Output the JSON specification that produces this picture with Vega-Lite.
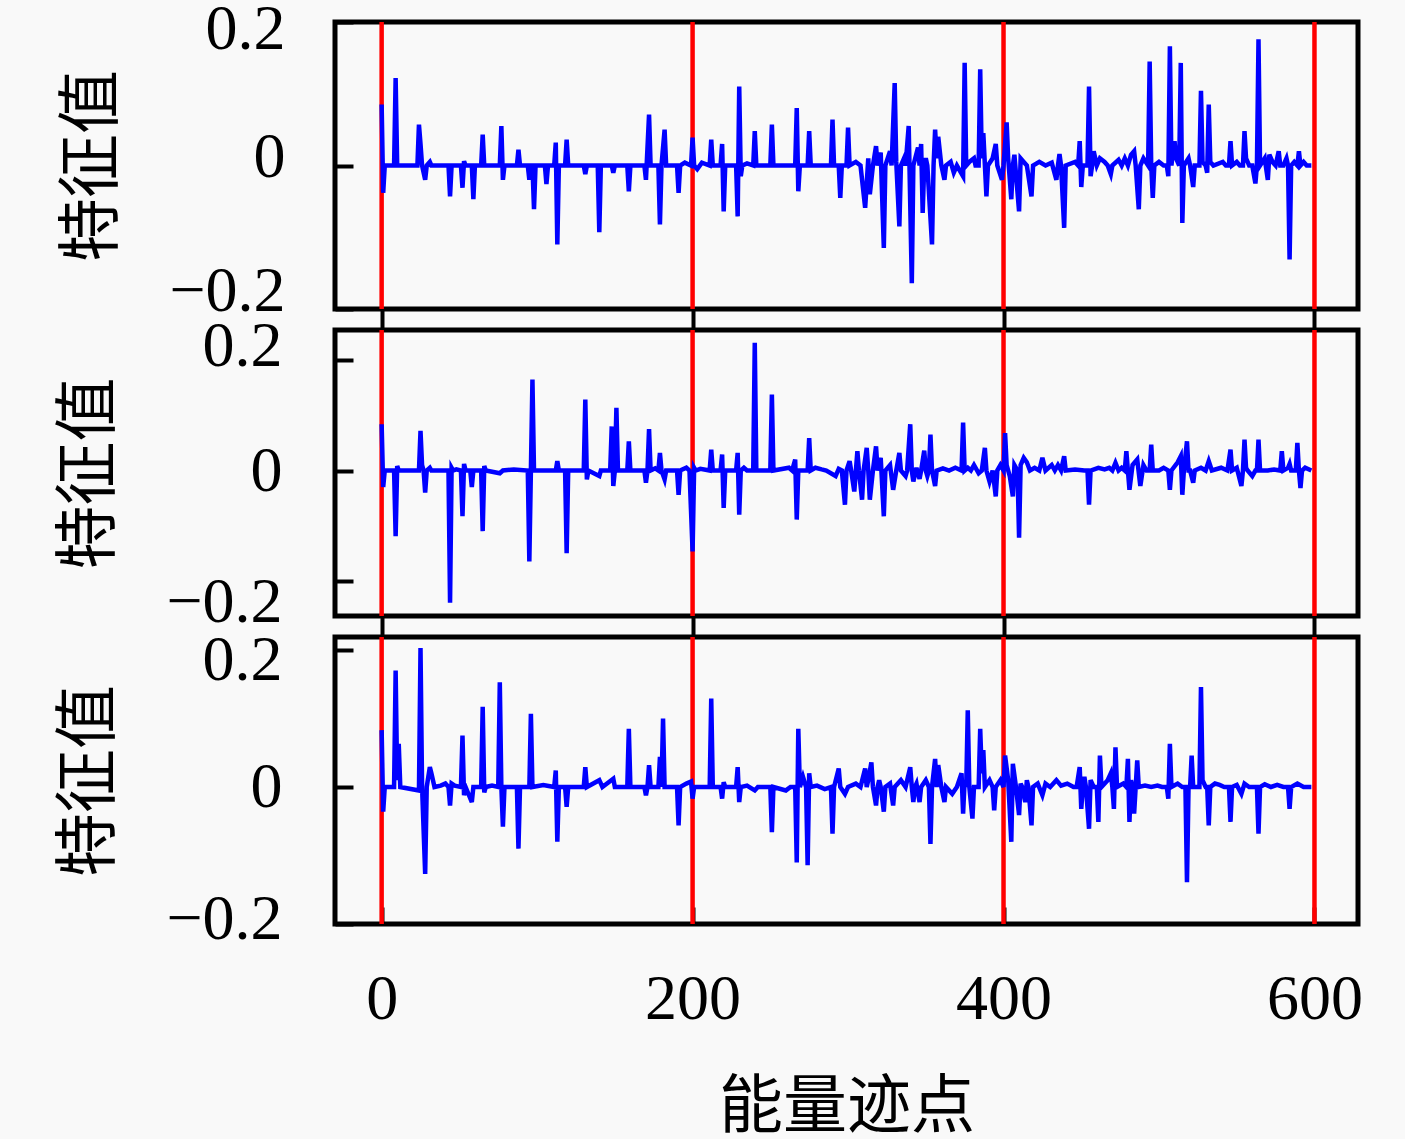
{
  "$schema": "https://vega.github.io/schema/vega-lite/v6.json",
  "background": "#f9f9f9",
  "padding": {"left": 55, "top": -6, "right": 40, "bottom": 0},
  "spacing": 21,
  "bounds": "flush",
  "config": {
    "view": {"stroke": "black", "strokeWidth": 5},
    "axis": {
      "labelFont": "Liberation Serif",
      "labelFontSize": 64,
      "labelColor": "black",
      "labelFlush": false,
      "labelOverlap": false,
      "labelBound": false,
      "tickColor": "black",
      "tickWidth": 4,
      "domain": false,
      "grid": false,
      "titleFont": "Noto Sans CJK SC",
      "titleFontSize": 64,
      "titleFontWeight": "normal",
      "titleColor": "black",
      "zindex": 1
    }
  },
  "datasets": {
    "red": [{"x": 0}, {"x": 200}, {"x": 400}, {"x": 600}],
    "p1": [
      {"x":0,"v":0.085},{"x":1,"v":-0.038},{"x":2,"v":0},{"x":8,"v":0},{"x":9,"v":0.122},{"x":10,"v":0},
      {"x":23,"v":0},{"x":24,"v":0.057},{"x":25,"v":0.03},{"x":26,"v":0},{"x":28,"v":-0.02},{"x":29,"v":0},
      {"x":31,"v":0.005},{"x":32,"v":0},{"x":43,"v":0},{"x":44,"v":-0.043},{"x":45,"v":0},{"x":51,"v":0},
      {"x":52,"v":-0.031},{"x":53,"v":0.006},{"x":54,"v":0},{"x":58,"v":0},{"x":59,"v":-0.047},{"x":60,"v":0},
      {"x":64,"v":0},{"x":65,"v":0.043},{"x":66,"v":0},{"x":76,"v":0},{"x":77,"v":0.055},{"x":78,"v":-0.02},
      {"x":79,"v":0},{"x":87,"v":0},{"x":88,"v":0.022},{"x":89,"v":0},{"x":94,"v":0},{"x":95,"v":-0.02},
      {"x":96,"v":0},{"x":97,"v":0},{"x":98,"v":-0.061},{"x":99,"v":0},{"x":105,"v":0},{"x":106,"v":-0.026},
      {"x":107,"v":0},{"x":111,"v":0},{"x":112,"v":0.032},{"x":113,"v":-0.11},{"x":114,"v":0},{"x":118,"v":0},
      {"x":119,"v":0.036},{"x":120,"v":0},{"x":130,"v":0},{"x":131,"v":-0.012},{"x":132,"v":0},{"x":139,"v":0},
      {"x":140,"v":-0.093},{"x":141,"v":0},{"x":148,"v":0},{"x":149,"v":-0.01},{"x":150,"v":0},{"x":158,"v":0},
      {"x":159,"v":-0.036},{"x":160,"v":0},{"x":169,"v":0},{"x":170,"v":-0.02},{"x":172,"v":0.071},{"x":173,"v":0},
      {"x":178,"v":0},{"x":179,"v":-0.082},{"x":180,"v":0},{"x":182,"v":0.05},{"x":183,"v":0},{"x":190,"v":0},
      {"x":191,"v":-0.038},{"x":192,"v":0},{"x":195,"v":0.004},{"x":199,"v":0},{"x":200,"v":0.039},{"x":201,"v":0},
      {"x":203,"v":-0.005},{"x":206,"v":0.004},{"x":211,"v":0},{"x":212,"v":0.036},{"x":213,"v":0},{"x":218,"v":0},
      {"x":219,"v":0.03},{"x":220,"v":-0.064},{"x":221,"v":0},{"x":228,"v":0},{"x":229,"v":-0.071},{"x":230,"v":0.11},
      {"x":231,"v":-0.015},{"x":232,"v":0},{"x":235,"v":0.003},{"x":239,"v":0},{"x":240,"v":0.048},{"x":241,"v":0},
      {"x":250,"v":0},{"x":251,"v":0.057},{"x":252,"v":0},{"x":258,"v":0},{"x":266,"v":0},{"x":267,"v":0.08},
      {"x":268,"v":-0.036},{"x":269,"v":0},{"x":274,"v":0},{"x":275,"v":0.048},{"x":276,"v":0},{"x":289,"v":0},
      {"x":290,"v":0.064},{"x":291,"v":0},{"x":294,"v":0},{"x":295,"v":-0.045},{"x":296,"v":0},{"x":299,"v":0},
      {"x":300,"v":0.053},{"x":301,"v":0},{"x":305,"v":0.005},{"x":308,"v":0},{"x":311,"v":-0.059},{"x":313,"v":0.01},
      {"x":314,"v":-0.04},{"x":316,"v":0},{"x":318,"v":0.027},{"x":319,"v":0},{"x":321,"v":0.018},{"x":323,"v":-0.115},
      {"x":324,"v":0},{"x":327,"v":0.02},{"x":328,"v":0},{"x":330,"v":0.115},{"x":331,"v":0.005},{"x":333,"v":-0.085},
      {"x":334,"v":0},{"x":336,"v":0.01},{"x":337,"v":0},{"x":339,"v":0.055},{"x":341,"v":-0.164},{"x":342,"v":0},
      {"x":345,"v":0.025},{"x":346,"v":0},{"x":347,"v":0.03},{"x":348,"v":-0.066},{"x":349,"v":0},{"x":350,"v":0.01},
      {"x":351,"v":0},{"x":354,"v":-0.11},{"x":355,"v":0},{"x":356,"v":0.05},{"x":357,"v":0.01},{"x":358,"v":0.04},
      {"x":360,"v":0},{"x":362,"v":-0.02},{"x":363,"v":0},{"x":366,"v":0.005},{"x":368,"v":-0.01},{"x":370,"v":0},
      {"x":374,"v":-0.015},{"x":375,"v":0.143},{"x":376,"v":0},{"x":378,"v":0.005},{"x":381,"v":0.01},{"x":382,"v":0},
      {"x":384,"v":0},{"x":385,"v":0.134},{"x":386,"v":0.01},{"x":387,"v":0.045},{"x":389,"v":-0.043},{"x":390,"v":0},
      {"x":393,"v":0.01},{"x":395,"v":0.03},{"x":396,"v":0},{"x":399,"v":-0.02},{"x":400,"v":0},{"x":402,"v":0.06},
      {"x":403,"v":0.01},{"x":405,"v":-0.047},{"x":406,"v":0},{"x":407,"v":0.015},{"x":410,"v":-0.064},{"x":411,"v":0.01},
      {"x":413,"v":0.005},{"x":415,"v":0},{"x":418,"v":-0.043},{"x":419,"v":0},{"x":423,"v":0.005},{"x":427,"v":0},
      {"x":431,"v":0.004},{"x":434,"v":-0.02},{"x":435,"v":0},{"x":436,"v":0.016},{"x":437,"v":0},{"x":439,"v":-0.087},
      {"x":440,"v":0},{"x":446,"v":0.005},{"x":448,"v":0},{"x":449,"v":0.034},{"x":450,"v":-0.03},{"x":451,"v":0},
      {"x":454,"v":0},{"x":455,"v":0.11},{"x":456,"v":-0.015},{"x":457,"v":0},{"x":458,"v":0.02},{"x":460,"v":0},
      {"x":462,"v":0.01},{"x":465,"v":0.005},{"x":467,"v":0},{"x":469,"v":-0.012},{"x":470,"v":0},{"x":474,"v":0.008},
      {"x":476,"v":0},{"x":478,"v":0.01},{"x":480,"v":0},{"x":482,"v":0.015},{"x":484,"v":0.02},{"x":485,"v":0},
      {"x":487,"v":-0.061},{"x":488,"v":0},{"x":490,"v":0.01},{"x":493,"v":0},{"x":494,"v":0.145},{"x":495,"v":0},
      {"x":496,"v":-0.045},{"x":497,"v":0},{"x":500,"v":0.005},{"x":503,"v":0},{"x":505,"v":0},{"x":506,"v":-0.015},
      {"x":507,"v":0.166},{"x":508,"v":0},{"x":509,"v":0.02},{"x":510,"v":0.034},{"x":511,"v":0.01},{"x":513,"v":0},
      {"x":514,"v":0.143},{"x":515,"v":-0.08},{"x":516,"v":0},{"x":519,"v":0.01},{"x":520,"v":0},{"x":522,"v":-0.03},
      {"x":523,"v":0},{"x":526,"v":0},{"x":527,"v":0.104},{"x":528,"v":0.005},{"x":530,"v":0},{"x":531,"v":-0.01},
      {"x":532,"v":0.085},{"x":533,"v":0.005},{"x":535,"v":0},{"x":541,"v":0.005},{"x":543,"v":0},{"x":545,"v":0},
      {"x":546,"v":0.034},{"x":547,"v":0},{"x":550,"v":0.005},{"x":552,"v":0},{"x":554,"v":0},{"x":555,"v":0.048},
      {"x":556,"v":0.01},{"x":558,"v":0},{"x":560,"v":0},{"x":562,"v":-0.025},{"x":563,"v":0},{"x":564,"v":0.176},
      {"x":565,"v":0},{"x":568,"v":0.01},{"x":570,"v":-0.02},{"x":571,"v":0.015},{"x":573,"v":0.005},{"x":575,"v":0},
      {"x":577,"v":0.02},{"x":578,"v":0},{"x":580,"v":0},{"x":582,"v":0.01},{"x":583,"v":0},{"x":584,"v":-0.131},
      {"x":585,"v":0},{"x":587,"v":0.005},{"x":589,"v":0},{"x":590,"v":0.02},{"x":591,"v":0},{"x":593,"v":0.005},
      {"x":595,"v":0},{"x":598,"v":0}
    ],
    "p2": [
      {"x":0,"v":0.084},{"x":1,"v":-0.03},{"x":2,"v":0},{"x":8,"v":0},{"x":9,"v":-0.119},{"x":10,"v":0.008},
      {"x":11,"v":0},{"x":24,"v":0},{"x":25,"v":0.072},{"x":26,"v":0.01},{"x":27,"v":0},{"x":28,"v":-0.04},
      {"x":29,"v":0},{"x":31,"v":0.005},{"x":32,"v":0},{"x":43,"v":0},{"x":44,"v":-0.24},{"x":45,"v":0.005},
      {"x":46,"v":0},{"x":48,"v":0.002},{"x":51,"v":0},{"x":52,"v":-0.083},{"x":53,"v":0.012},{"x":54,"v":0},
      {"x":57,"v":0},{"x":58,"v":-0.03},{"x":59,"v":0},{"x":64,"v":0},{"x":65,"v":-0.11},{"x":66,"v":0.008},
      {"x":67,"v":0},{"x":76,"v":-0.005},{"x":78,"v":0},{"x":85,"v":0.002},{"x":94,"v":0},{"x":95,"v":-0.165},
      {"x":96,"v":0},{"x":97,"v":0.165},{"x":98,"v":0},{"x":112,"v":0},{"x":113,"v":0.017},{"x":114,"v":0},
      {"x":118,"v":0},{"x":119,"v":-0.15},{"x":120,"v":0},{"x":130,"v":0},{"x":131,"v":0.129},{"x":132,"v":-0.016},
      {"x":133,"v":0},{"x":140,"v":-0.01},{"x":141,"v":0},{"x":147,"v":0},{"x":148,"v":0.08},{"x":149,"v":-0.028},
      {"x":150,"v":0},{"x":151,"v":0.114},{"x":152,"v":0},{"x":158,"v":0},{"x":159,"v":0.053},{"x":160,"v":0},
      {"x":169,"v":0},{"x":170,"v":-0.022},{"x":171,"v":0},{"x":172,"v":0.075},{"x":173,"v":0},{"x":176,"v":0.004},
      {"x":178,"v":0},{"x":179,"v":0.032},{"x":180,"v":0},{"x":182,"v":-0.016},{"x":183,"v":0},{"x":190,"v":0},
      {"x":191,"v":-0.044},{"x":192,"v":0},{"x":196,"v":0.005},{"x":198,"v":0},{"x":200,"v":-0.147},{"x":201,"v":0.005},
      {"x":202,"v":0},{"x":205,"v":0.003},{"x":211,"v":0},{"x":212,"v":0.038},{"x":213,"v":0},{"x":218,"v":0},
      {"x":219,"v":0.029},{"x":220,"v":-0.068},{"x":221,"v":0},{"x":228,"v":0},{"x":229,"v":0.032},{"x":230,"v":-0.08},
      {"x":231,"v":0},{"x":233,"v":0.005},{"x":235,"v":0},{"x":239,"v":0},{"x":240,"v":0.232},{"x":241,"v":0},
      {"x":250,"v":0},{"x":251,"v":0.138},{"x":252,"v":0},{"x":262,"v":0.005},{"x":264,"v":0},{"x":266,"v":0.02},
      {"x":267,"v":-0.089},{"x":268,"v":0},{"x":274,"v":0},{"x":275,"v":0.059},{"x":276,"v":0},{"x":279,"v":0.005},
      {"x":283,"v":0.002},{"x":286,"v":0},{"x":292,"v":-0.01},{"x":294,"v":0.003},{"x":296,"v":0},{"x":298,"v":-0.062},
      {"x":299,"v":0},{"x":301,"v":0.017},{"x":302,"v":0},{"x":304,"v":-0.038},{"x":306,"v":0.035},{"x":307,"v":0},
      {"x":309,"v":-0.053},{"x":310,"v":0},{"x":312,"v":0.041},{"x":313,"v":0},{"x":314,"v":-0.053},{"x":316,"v":0},
      {"x":318,"v":0.044},{"x":319,"v":0},{"x":321,"v":0.023},{"x":323,"v":-0.083},{"x":324,"v":0},{"x":327,"v":0.01},
      {"x":329,"v":-0.035},{"x":331,"v":0},{"x":333,"v":0.032},{"x":334,"v":0},{"x":337,"v":-0.01},{"x":338,"v":0},
      {"x":340,"v":0.084},{"x":341,"v":0},{"x":342,"v":-0.02},{"x":344,"v":0.005},{"x":346,"v":-0.015},{"x":347,"v":0},
      {"x":349,"v":0.036},{"x":350,"v":0},{"x":351,"v":-0.01},{"x":352,"v":0},{"x":353,"v":0.065},{"x":354,"v":0},
      {"x":356,"v":-0.028},{"x":357,"v":0},{"x":361,"v":0.004},{"x":365,"v":0},{"x":369,"v":0.005},{"x":373,"v":0},
      {"x":374,"v":0.087},{"x":375,"v":0},{"x":377,"v":0.005},{"x":379,"v":0},{"x":381,"v":0.01},{"x":384,"v":-0.005},
      {"x":386,"v":0},{"x":388,"v":0.041},{"x":389,"v":0},{"x":391,"v":-0.02},{"x":393,"v":0},{"x":395,"v":-0.047},
      {"x":396,"v":0},{"x":398,"v":0.01},{"x":400,"v":0},{"x":401,"v":0.068},{"x":402,"v":0.01},{"x":404,"v":-0.01},
      {"x":406,"v":-0.047},{"x":407,"v":0.01},{"x":409,"v":0},{"x":410,"v":-0.122},{"x":411,"v":0.01},{"x":413,"v":0.023},
      {"x":415,"v":0.015},{"x":417,"v":0},{"x":420,"v":0.005},{"x":423,"v":0},{"x":425,"v":0.023},{"x":427,"v":0},
      {"x":431,"v":0.01},{"x":433,"v":0},{"x":435,"v":0.01},{"x":437,"v":0},{"x":439,"v":0.026},{"x":440,"v":0},
      {"x":446,"v":0.002},{"x":452,"v":0},{"x":454,"v":0},{"x":455,"v":-0.062},{"x":456,"v":0},{"x":461,"v":0.005},
      {"x":465,"v":0.002},{"x":468,"v":0.005},{"x":470,"v":0},{"x":472,"v":0.014},{"x":474,"v":0},{"x":476,"v":0.005},
      {"x":478,"v":0},{"x":479,"v":0.035},{"x":480,"v":0},{"x":481,"v":-0.035},{"x":483,"v":0.01},{"x":486,"v":0.02},
      {"x":488,"v":-0.028},{"x":490,"v":0.01},{"x":492,"v":0},{"x":494,"v":0},{"x":495,"v":0.047},{"x":496,"v":0},
      {"x":500,"v":0},{"x":503,"v":0.005},{"x":506,"v":0},{"x":507,"v":-0.035},{"x":508,"v":0},{"x":512,"v":0.015},
      {"x":514,"v":0.026},{"x":515,"v":-0.044},{"x":516,"v":0},{"x":518,"v":0.053},{"x":519,"v":0},{"x":520,"v":0},
      {"x":522,"v":-0.022},{"x":523,"v":0},{"x":527,"v":0.005},{"x":530,"v":0},{"x":532,"v":0.017},{"x":534,"v":0},
      {"x":540,"v":0.005},{"x":544,"v":0},{"x":546,"v":0.038},{"x":547,"v":0},{"x":550,"v":0.005},{"x":553,"v":-0.028},
      {"x":554,"v":0},{"x":555,"v":0.056},{"x":556,"v":0.005},{"x":557,"v":0},{"x":560,"v":-0.01},{"x":562,"v":0},
      {"x":563,"v":0},{"x":564,"v":0.056},{"x":565,"v":0},{"x":570,"v":0},{"x":574,"v":0.002},{"x":578,"v":0},
      {"x":579,"v":0.035},{"x":580,"v":0},{"x":583,"v":0.005},{"x":584,"v":0.012},{"x":585,"v":0},{"x":588,"v":0},
      {"x":589,"v":0.05},{"x":590,"v":0},{"x":591,"v":-0.032},{"x":592,"v":0},{"x":594,"v":0.005},{"x":598,"v":0}
    ],
    "p3": [
      {"x":0,"v":0.083},{"x":1,"v":-0.036},{"x":2,"v":0},{"x":8,"v":0},{"x":9,"v":0.17},{"x":10,"v":0.01},
      {"x":11,"v":0.063},{"x":12,"v":0},{"x":24,"v":-0.005},{"x":25,"v":0.203},{"x":26,"v":0},{"x":28,"v":-0.127},
      {"x":29,"v":0},{"x":31,"v":0.029},{"x":32,"v":0.02},{"x":34,"v":0},{"x":38,"v":0.002},{"x":41,"v":0.005},
      {"x":43,"v":0},{"x":44,"v":-0.027},{"x":45,"v":0.005},{"x":47,"v":0.002},{"x":51,"v":0},{"x":52,"v":0.075},
      {"x":53,"v":-0.012},{"x":54,"v":0},{"x":58,"v":-0.022},{"x":59,"v":0},{"x":64,"v":0},{"x":65,"v":0.117},
      {"x":66,"v":-0.008},{"x":67,"v":0},{"x":71,"v":0.002},{"x":75,"v":0},{"x":76,"v":0.153},{"x":77,"v":0},
      {"x":78,"v":-0.058},{"x":79,"v":0},{"x":87,"v":0},{"x":88,"v":-0.09},{"x":89,"v":0},{"x":95,"v":0},
      {"x":96,"v":0.107},{"x":97,"v":0},{"x":104,"v":0.003},{"x":111,"v":0},{"x":112,"v":0.024},{"x":113,"v":-0.08},
      {"x":114,"v":0},{"x":118,"v":0},{"x":119,"v":-0.029},{"x":120,"v":0},{"x":130,"v":0},{"x":131,"v":0.029},
      {"x":132,"v":0},{"x":140,"v":0.01},{"x":142,"v":0},{"x":149,"v":0.012},{"x":150,"v":0},{"x":158,"v":0},
      {"x":159,"v":0.085},{"x":160,"v":0},{"x":169,"v":0},{"x":170,"v":-0.012},{"x":171,"v":0},{"x":172,"v":0.032},
      {"x":173,"v":0},{"x":178,"v":0},{"x":179,"v":0.044},{"x":180,"v":0},{"x":181,"v":0.1},{"x":182,"v":0},
      {"x":190,"v":0},{"x":191,"v":-0.056},{"x":192,"v":0},{"x":196,"v":0.005},{"x":199,"v":0.008},{"x":200,"v":-0.017},
      {"x":201,"v":0},{"x":211,"v":0},{"x":212,"v":0.129},{"x":213,"v":0},{"x":218,"v":0},{"x":219,"v":-0.017},
      {"x":220,"v":0.007},{"x":221,"v":0},{"x":228,"v":0},{"x":229,"v":0.029},{"x":230,"v":-0.022},{"x":231,"v":0},
      {"x":235,"v":0.002},{"x":240,"v":-0.005},{"x":242,"v":0},{"x":250,"v":0},{"x":251,"v":-0.066},{"x":252,"v":0},
      {"x":260,"v":-0.005},{"x":263,"v":0},{"x":266,"v":0},{"x":267,"v":-0.11},{"x":268,"v":0.085},{"x":269,"v":0},
      {"x":271,"v":0.015},{"x":273,"v":0},{"x":274,"v":-0.114},{"x":275,"v":0.02},{"x":276,"v":0},{"x":280,"v":0.002},
      {"x":285,"v":-0.003},{"x":289,"v":0},{"x":290,"v":-0.068},{"x":291,"v":0},{"x":294,"v":0.027},{"x":295,"v":0},
      {"x":298,"v":-0.01},{"x":300,"v":0},{"x":305,"v":0.005},{"x":308,"v":0},{"x":311,"v":0.027},{"x":312,"v":0},
      {"x":313,"v":0.01},{"x":315,"v":0.036},{"x":316,"v":0},{"x":318,"v":-0.027},{"x":319,"v":0},{"x":320,"v":0.01},
      {"x":321,"v":0},{"x":323,"v":-0.036},{"x":324,"v":0},{"x":327,"v":0.005},{"x":329,"v":-0.027},{"x":330,"v":0},
      {"x":334,"v":0.01},{"x":337,"v":0},{"x":340,"v":0.029},{"x":341,"v":0},{"x":342,"v":-0.022},{"x":343,"v":0},
      {"x":344,"v":0.005},{"x":346,"v":-0.022},{"x":347,"v":0},{"x":350,"v":0.01},{"x":352,"v":0},{"x":353,"v":-0.083},
      {"x":354,"v":0},{"x":356,"v":0.041},{"x":357,"v":0},{"x":358,"v":0.032},{"x":360,"v":0},{"x":362,"v":-0.022},
      {"x":363,"v":0},{"x":367,"v":-0.01},{"x":370,"v":0},{"x":373,"v":0.02},{"x":374,"v":-0.039},{"x":375,"v":0.01},
      {"x":376,"v":0},{"x":377,"v":0.112},{"x":378,"v":0},{"x":380,"v":-0.046},{"x":381,"v":0},{"x":384,"v":0},
      {"x":385,"v":0.085},{"x":386,"v":0.02},{"x":387,"v":0.054},{"x":388,"v":0},{"x":391,"v":0.01},{"x":393,"v":0},
      {"x":394,"v":-0.034},{"x":395,"v":0},{"x":398,"v":0.01},{"x":400,"v":0},{"x":401,"v":0.046},{"x":403,"v":0.01},
      {"x":405,"v":-0.08},{"x":406,"v":0.034},{"x":408,"v":0},{"x":410,"v":-0.041},{"x":411,"v":0.005},{"x":412,"v":0},
      {"x":414,"v":-0.022},{"x":415,"v":0.01},{"x":416,"v":0},{"x":418,"v":-0.056},{"x":419,"v":0},{"x":422,"v":0.005},
      {"x":425,"v":-0.012},{"x":427,"v":0.005},{"x":430,"v":0},{"x":434,"v":0.01},{"x":437,"v":0.002},{"x":441,"v":0.005},
      {"x":445,"v":0},{"x":447,"v":0},{"x":449,"v":0.029},{"x":450,"v":-0.032},{"x":451,"v":0},{"x":452,"v":0.015},
      {"x":453,"v":0},{"x":455,"v":-0.061},{"x":456,"v":0.01},{"x":458,"v":0},{"x":460,"v":0},{"x":461,"v":-0.051},
      {"x":462,"v":0.046},{"x":463,"v":0},{"x":467,"v":0.01},{"x":469,"v":0.02},{"x":470,"v":0},{"x":471,"v":-0.032},
      {"x":472,"v":0.058},{"x":473,"v":0},{"x":477,"v":0.005},{"x":479,"v":0},{"x":480,"v":0.041},{"x":481,"v":-0.051},
      {"x":482,"v":0.01},{"x":483,"v":0},{"x":484,"v":-0.039},{"x":485,"v":0},{"x":486,"v":0.039},{"x":487,"v":0},
      {"x":491,"v":0.002},{"x":495,"v":0},{"x":499,"v":0.002},{"x":502,"v":0},{"x":505,"v":0},{"x":506,"v":-0.017},
      {"x":507,"v":0.063},{"x":508,"v":0},{"x":512,"v":0.005},{"x":515,"v":0},{"x":517,"v":0},{"x":518,"v":-0.139},
      {"x":519,"v":0},{"x":520,"v":0},{"x":521,"v":0.046},{"x":522,"v":0},{"x":526,"v":0},{"x":527,"v":0.146},
      {"x":528,"v":0.01},{"x":530,"v":0},{"x":531,"v":0},{"x":532,"v":-0.056},{"x":533,"v":0},{"x":536,"v":0.005},
      {"x":539,"v":0.003},{"x":542,"v":0},{"x":545,"v":0},{"x":546,"v":-0.051},{"x":547,"v":0},{"x":550,"v":0.003},
      {"x":553,"v":-0.01},{"x":555,"v":0.005},{"x":558,"v":0},{"x":563,"v":0},{"x":564,"v":-0.068},{"x":565,"v":0},
      {"x":568,"v":0.004},{"x":572,"v":0},{"x":576,"v":0.003},{"x":580,"v":0},{"x":583,"v":0},{"x":584,"v":-0.032},
      {"x":585,"v":0},{"x":589,"v":0.005},{"x":593,"v":0},{"x":598,"v":0}
    ]
  },
  "vconcat": [
    {
      "width": 1023,
      "height": 287,
      "encoding": {
        "x": {
          "field": "x",
          "type": "quantitative",
          "scale": {"domain": [-30, 628], "nice": false, "zero": false},
          "axis": {"values": [0, 200, 400, 600], "labels": false, "tickSize": 21, "title": null}
        }
      },
      "layer": [
        {
          "data": {"name": "red"},
          "mark": {"type": "rule", "color": "#ff0000", "strokeWidth": 4.5}
        },
        {
          "data": {"name": "p1"},
          "mark": {"type": "line", "color": "#0000ff", "strokeWidth": 4.5},
          "encoding": {
            "y": {
              "field": "v",
              "type": "quantitative",
              "scale": {"domain": [-0.2, 0.2], "nice": false, "zero": false},
              "axis": {
                "values": [-0.2, 0, 0.2],
                "tickSize": -18,
                "labelPadding": 68,
                "labelBaseline": "middle",
                "labelExpr": "datum.value < 0 ? '\u22120.2' : datum.value > 0 ? '0.2' : '0'",
                "labelOffset": {"expr": "datum.value > 0.1 ? 7 : datum.value < -0.1 ? -18 : -8"},
                "title": "特征值",
                "titlePadding": 44
              }
            }
          }
        }
      ]
    },
    {
      "width": 1023,
      "height": 286,
      "encoding": {
        "x": {
          "field": "x",
          "type": "quantitative",
          "scale": {"domain": [-30, 628], "nice": false, "zero": false},
          "axis": {"values": [0, 200, 400, 600], "labels": false, "tickSize": 21, "title": null}
        }
      },
      "layer": [
        {
          "data": {"name": "red"},
          "mark": {"type": "rule", "color": "#ff0000", "strokeWidth": 4.5}
        },
        {
          "data": {"name": "p2"},
          "mark": {"type": "line", "color": "#0000ff", "strokeWidth": 4.5},
          "encoding": {
            "y": {
              "field": "v",
              "type": "quantitative",
              "scale": {"domain": [-0.264, 0.255], "nice": false, "zero": false},
              "axis": {
                "values": [-0.2, 0, 0.2],
                "tickSize": -18,
                "labelPadding": 71,
                "labelBaseline": "middle",
                "labelExpr": "datum.value < 0 ? '\u22120.2' : datum.value > 0 ? '0.2' : '0'",
                "labelOffset": {"expr": "datum.value > 0.1 ? -14 : datum.value < -0.1 ? 22 : 1"},
                "title": "特征值",
                "titlePadding": 44
              }
            }
          }
        }
      ]
    },
    {
      "width": 1023,
      "height": 287,
      "encoding": {
        "x": {
          "field": "x",
          "type": "quantitative",
          "scale": {"domain": [-30, 628], "nice": false, "zero": false},
          "axis": {
            "values": [0, 200, 400, 600],
            "tickSize": -17,
            "labelPadding": 60,
            "title": "能量迹点",
            "titlePadding": 44
          }
        }
      },
      "layer": [
        {
          "data": {"name": "red"},
          "mark": {"type": "rule", "color": "#ff0000", "strokeWidth": 4.5}
        },
        {
          "data": {"name": "p3"},
          "mark": {"type": "line", "color": "#0000ff", "strokeWidth": 4.5},
          "encoding": {
            "y": {
              "field": "v",
              "type": "quantitative",
              "scale": {"domain": [-0.2, 0.219], "nice": false, "zero": false},
              "axis": {
                "values": [-0.2, 0, 0.2],
                "tickSize": -18,
                "labelPadding": 71,
                "labelBaseline": "middle",
                "labelExpr": "datum.value < 0 ? '\u22120.2' : datum.value > 0 ? '0.2' : '0'",
                "labelOffset": {"expr": "datum.value > 0.1 ? 10 : datum.value < -0.1 ? -5 : 0"},
                "title": "特征值",
                "titlePadding": 44
              }
            }
          }
        }
      ]
    }
  ]
}
